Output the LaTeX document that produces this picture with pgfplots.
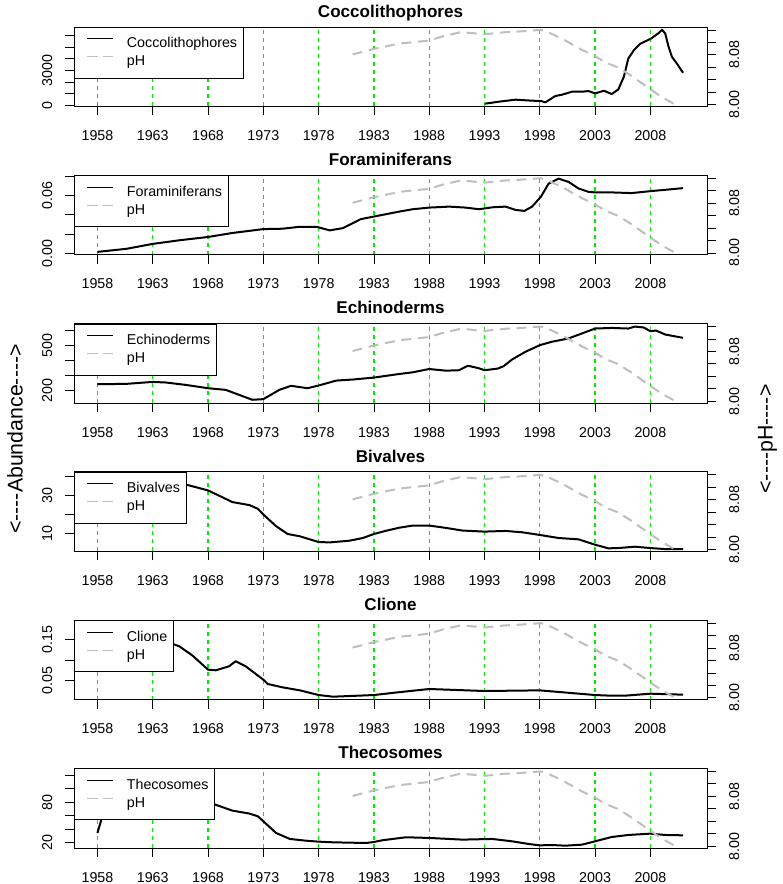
\documentclass[border=0pt]{standalone}
\usepackage{fontspec}
\setmainfont{Liberation Sans}
\usepackage{pgfplots}
\usepackage{pgfplotstable}
\pgfplotsset{compat=1.18}
\definecolor{rgreen}{RGB}{0,235,0}
\definecolor{phgray}{RGB}{190,190,190}

\pgfplotstableread{
year ph
1981.07 8.0806
1983.0 8.0895
1985.3 8.098
1988.0 8.103
1989.2 8.1096
1990.85 8.1164
1993.05 8.113
1994.9 8.1164
1995.8 8.117
1998.1 8.120
1998.8 8.116
2000.2 8.104
2001.8 8.088
2003.0 8.078
2003.9 8.068
2005.1 8.0595
2006.3 8.046
2008.05 8.024
2009.05 8.012
2010.1 8.0016
}\phdata

\newcommand{\tfont}{\fontsize{10.7}{12.8}\selectfont}
\newcommand{\hy}{-\kern0pt}
\pgfplotsset{
  base/.style={scale only axis, width=474.75pt, height=59.625pt,
    xmin=1955.88, xmax=2013.12, anchor=south west,
    scaled x ticks=false, scaled y ticks=false,
    tick align=outside, major tick length=6.75pt,
    axis line style={line width=0.6pt},
    tick style={color=black, line width=0.6pt},
    tick label style={font=\tfont}},
  leftax/.style={base,
    xtick={1958,1963,1968,1973,1978,1983,1988,1993,1998,2003,2008},
    xticklabels={1958,1963,1968,1973,1978,1983,1988,1993,1998,2003,2008},
    xtick pos=left, ytick pos=left,
    xmajorgrids=true,
    grid style={draw=rgreen, color=rgreen, line width=1pt, dash pattern=on 3pt off 3pt},
    major grid style={draw=rgreen, color=rgreen, line width=1pt, dash pattern=on 3pt off 3pt},
    xticklabel style={anchor=base, yshift=-18.85pt},
    yticklabel style={xshift=-9.75pt, rotate=90, anchor=base},
    title style={font=\bfseries\fontsize{12.8}{15}\selectfont, at={(0.5,1)}, anchor=base, yshift=1.4pt},
    legend cell align=left,
    legend style={at={(0,1)}, anchor=north west, draw=black, line width=0.6pt, fill=white,
      font=\tfont, inner xsep=4.5pt, inner ysep=7.375pt, row sep=3.5pt, column sep=9.75pt,
      nodes={inner sep=0pt, text height=8pt, text depth=2pt}},
    legend image code/.code={\path[draw=none] (0pt,0pt) -- (0pt,3.7pt); \draw[##1, line width=0.75pt] (5.25pt,3.7pt) -- (24.75pt,3.7pt);}},
  rightax/.style={base, axis x line=none, xtick=\empty, axis y line*=right,
    ymin=7.997, ymax=8.1247, ytick={8.00,8.02,8.04,8.06,8.08,8.10,8.12},
    yticklabels={8.00,{},{},{},8.08,{},{}},
    yticklabel style={xshift=17.25pt, rotate=90, anchor=base}},
  blk/.style={black, line width=1.5pt, line join=round},
  phl/.style={phgray, line width=1.5pt, dash pattern=on 7.5pt off 5pt},
}
\newcommand{\phleg}{\addlegendimage{phgray, dash pattern=on 8pt off 4pt}\addlegendentry{pH}}
\newcommand{\phaxis}[1]{%
  \begin{axis}[rightax, at={(55.5pt,#1)}]
    \addplot[phl] table[x=year, y=ph] {\phdata};
  \end{axis}}

\begin{document}
\begin{tikzpicture}
\useasboundingbox (0,0) rectangle (586.5pt,663pt);

% Panel 1
\begin{axis}[leftax, at={(55.5pt,583.125pt)}, title={Coccolithophores},
  ymin=-100, ymax=6750, ytick={0,1000,2000,3000,4000,5000,6000},
  yticklabels={0,{},{},3000,{},{},{}}]
\addplot[blk] coordinates {(1993.05,143) (1994.3,314) (1995.8,486) (1997.3,400) (1998.1,371) (1998.5,257) (1999.4,800) (2000.0,914) (2000.9,1171) (2001.8,1171) (2002.4,1229) (2003.0,1029) (2003.8,1257) (2004.5,971) (2005.1,1371) (2005.6,2457) (2006.0,4029) (2006.5,4743) (2007.1,5314) (2008.05,5743) (2008.75,6229) (2009.05,6514) (2009.35,6171) (2009.65,5029) (2009.95,4171) (2010.4,3600) (2010.95,2800)};
\addlegendentry{Coccolithophores}
\phleg
\end{axis}
\phaxis{583.125pt}

% Panel 2
\begin{axis}[leftax, at={(55.5pt,471.9pt)}, title={Foraminiferans},
  ymin=-0.001, ymax=0.0807, ytick={0,0.02,0.04,0.06,0.08},
  yticklabels={0.00,{},{},0.06,{}}]
\addplot[blk] coordinates {(1958,0.0020) (1960.6,0.0051) (1963,0.0102) (1965.4,0.0139) (1968,0.0173) (1970.2,0.0214) (1973,0.0254) (1974.75,0.0258) (1976.3,0.0278) (1977.8,0.0278) (1979.0,0.0241) (1980.2,0.0264) (1981.8,0.0356) (1983,0.0383) (1985.3,0.0434) (1986.5,0.0458) (1988,0.0475) (1989.8,0.0485) (1991.3,0.0475) (1992.5,0.0458) (1993.7,0.0478) (1994.9,0.0485) (1995.8,0.0451) (1996.6,0.0441) (1997.3,0.0485) (1998.1,0.0586) (1998.8,0.0722) (1999.7,0.0773) (2000.6,0.0739) (2001.5,0.0671) (2002.4,0.0637) (2003,0.0631) (2004.5,0.0631) (2006.3,0.0624) (2008,0.0644) (2009.65,0.0661) (2010.95,0.0675)};
\addlegendentry{Foraminiferans}
\phleg
\end{axis}
\phaxis{471.9pt}

% Panel 3
\begin{axis}[leftax, at={(55.5pt,360.675pt)}, title={Echinoderms},
  ymin=113.8, ymax=644, ytick={200,300,400,500,600},
  yticklabels={200,{},{},500,{}}]
\addplot[blk] coordinates {(1958,239.8) (1960.6,242) (1963,255) (1964.2,251) (1966,235) (1968,213) (1969.6,202) (1970.8,169) (1972,136) (1973,140) (1974.45,202) (1975.5,229) (1977,213) (1978,231) (1979.6,264) (1981.1,271) (1983,284) (1985.3,308) (1986.5,319) (1988,341) (1989.5,330) (1990.7,333) (1991.5,363) (1992.5,346) (1993,333) (1994.2,344) (1994.75,361) (1995.5,405) (1996.7,456) (1998,500) (1999.1,523) (2000.6,545) (2001.8,578) (2003,611) (2004.5,615) (2006,611) (2006.6,624) (2007.4,618) (2008,593) (2008.5,598) (2009.35,571) (2010.95,549)};
\addlegendentry{Echinoderms}
\phleg
\end{axis}
\phaxis{360.675pt}

% Panel 4
\begin{axis}[leftax, at={(55.5pt,249.45pt)}, title={Bivalves},
  ymin=0.7, ymax=42.28, ytick={10,20,30,40},
  yticklabels={10,{},30,{}}]
\addplot[blk] coordinates {(1958,36) (1959.5,39) (1961,40.7) (1962.5,40) (1964,38.5) (1965.9,35.8) (1968,32.6) (1970.2,26.5) (1971.75,24.9) (1972.5,23.0) (1973,20) (1974.15,13.9) (1975.2,9.8) (1976.3,8.6) (1978,5.6) (1979,5.4) (1980.8,6.3) (1982,7.7) (1983,9.8) (1984.1,11.5) (1985.3,13.1) (1986.5,14.2) (1988,14.2) (1989.5,13.0) (1991,11.6) (1993,11.05) (1994.9,11.4) (1996.4,10.7) (1998,9.3) (1999.7,7.7) (2001.5,7.0) (2003,4.2) (2004.2,2.3) (2005.1,2.45) (2006.6,3.15) (2008,2.45) (2009.35,1.9) (2010.95,1.9)};
\addlegendentry{Bivalves}
\phleg
\end{axis}
\phaxis{249.45pt}

% Panel 5
\begin{axis}[leftax, at={(55.5pt,138.225pt)}, title={Clione},
  ymin=0.00366, ymax=0.1972, ytick={0.05,0.10,0.15},
  yticklabels={0.05,{},0.15}]
\addplot[blk] coordinates {(1958,0.15) (1959.5,0.17) (1961,0.19) (1962.5,0.18) (1963.5,0.16) (1964.8,0.1394) (1965.4,0.1337) (1966.6,0.111) (1968,0.0768) (1968.7,0.0752) (1969.9,0.085) (1970.5,0.0972) (1971.4,0.085) (1973,0.0524) (1973.4,0.0419) (1974.75,0.0337) (1976.3,0.0264) (1978,0.015) (1979.3,0.011) (1980.8,0.0126) (1983,0.015) (1985.3,0.022) (1988,0.0297) (1993,0.0248) (1998,0.0264) (2003,0.015) (2004.5,0.0134) (2005.7,0.0134) (2008,0.0183) (2010.95,0.0159)};
\addlegendentry{Clione}
\phleg
\end{axis}
\phaxis{138.225pt}

% Panel 6
\begin{axis}[leftax, at={(55.5pt,27pt)}, title={Thecosomes},
  ymin=12.06, ymax=130.2, ytick={20,40,60,80,100,120},
  yticklabels={20,{},{},80,{},{}}]
\addplot[blk] coordinates {(1958,34.4) (1958.35,54) (1959,80) (1960,105) (1961.5,122) (1963,125) (1964.5,115) (1966,98) (1967.3,85) (1968.4,78) (1970.2,67.6) (1971.75,63.2) (1972.5,59.2) (1973,51.8) (1974.15,34.4) (1975.4,25.5) (1976.8,23) (1978,21.5) (1979.3,20.5) (1982.3,19.5) (1983,21) (1983.75,23.5) (1985.9,28) (1988,27) (1991,24.5) (1993.7,25.5) (1995.5,22) (1997,18) (1998,16) (1999.1,16.5) (2000.3,15.5) (2001.8,17) (2003,22) (2004.5,28.4) (2006,31.4) (2008,33.4) (2009.35,31.4) (2010.95,30.9)};
\addlegendentry{Thecosomes}
\phleg
\end{axis}
\phaxis{27pt}

\node[rotate=90, anchor=center, font=\fontsize{16}{19}\selectfont] at (11.25pt,333.75pt) {<\hy\hy\hy\hy Abundance\hy\hy\hy\hy>};
\node[rotate=90, anchor=center, font=\fontsize{16}{19}\selectfont] at (575.6pt,333.75pt) {<\hy\hy\hy\hy pH\hy\hy\hy\hy>};
\end{tikzpicture}
\end{document}
